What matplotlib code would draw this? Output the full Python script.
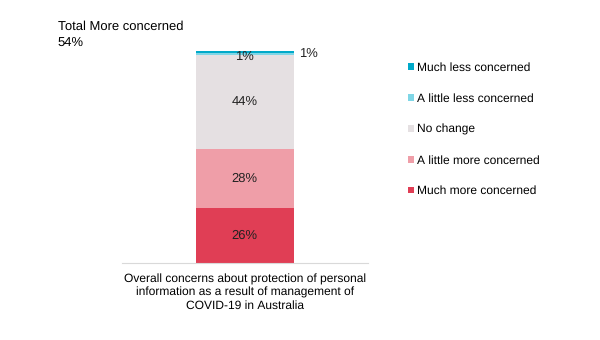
import matplotlib.pyplot as plt

plt.rcParams['font.family'] = ['Liberation Sans', 'DejaVu Sans']
plt.rcParams['text.hinting'] = 'no_hinting'
plt.rcParams['text.hinting_factor'] = 1

category = 'Overall concerns about protection of personal\ninformation as a result of management of\nCOVID-19 in Australia'
segments = ['Much more concerned', 'A little more concerned', 'No change',
            'A little less concerned', 'Much less concerned']
values = [26, 28, 44, 1, 1]
colors = ['#e03e55', '#ef9ea8', '#e5e0e2', '#7fd6e6', '#00a9c9']
total_more = values[0] + values[1]

fig = plt.figure(figsize=(6, 3.4), dpi=100)
ax = fig.add_axes([0.203, 0.2265, 0.41, 0.6235])

bottom = 0
for name, v, c in zip(segments, values, colors):
    ax.bar(0, v, width=0.4, bottom=bottom, color=c, label=name)
    bottom += v

# value labels: the big segments inside, the two thin ones at the top
bottom = 0
for i, v in enumerate(values):
    mid = bottom + v / 2
    if i < 3:
        ax.text(0, mid, f'{v}%', ha='center', va='center', fontsize=9, color='#222222')
    elif i == 3:
        ax.text(0, bottom - 0.6, f'{v}%', ha='center', va='center', fontsize=9, color='#222222')
    else:
        ax.text(0.22, mid - 0.8, f'{v}%', ha='left', va='center', fontsize=9, color='#222222')
    bottom += v

ax.set_xlim(-0.5, 0.5)
ax.set_ylim(0, 100)
ax.set_yticks([])
ax.set_xticks([0])
ax.set_xticklabels([category], fontsize=8.8, linespacing=1.28)
ax.tick_params(axis='x', length=0, pad=7.5)
for s in ['top', 'right', 'left']:
    ax.spines[s].set_visible(False)
ax.spines['bottom'].set_color('#d9d9d9')

fig.text(0.096, 0.922, 'Total More concerned', fontsize=9.7, ha='left', va='center')
fig.text(0.096, 0.874, f'{total_more}%', fontsize=9.7, ha='left', va='center')

handles, labels = ax.get_legend_handles_labels()
ax.legend(handles[::-1], labels[::-1], loc='upper left', bbox_to_anchor=(1.163, 0.948),
          frameon=False, fontsize=8.7, handlelength=0.5, handleheight=0.5,
          handletextpad=0.25, labelspacing=1.63, borderaxespad=0, borderpad=0)

fig.savefig('out.png', dpi=100)
